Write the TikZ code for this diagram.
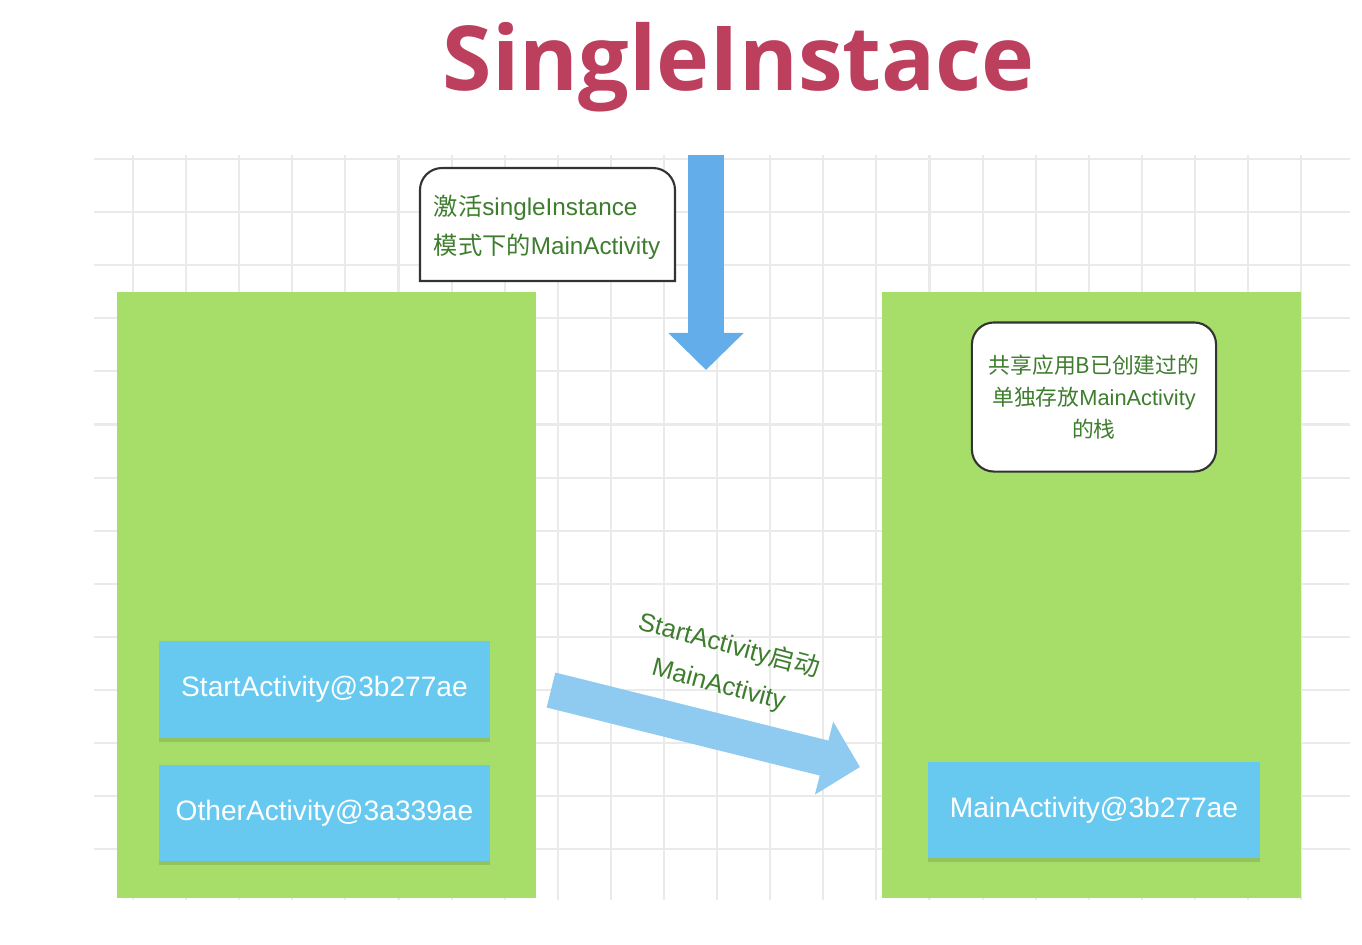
\documentclass[tikz,border=0pt]{standalone}
\usepackage{fontspec}
\setmainfont{Liberation Sans}
\newfontfamily\cjk{Noto Sans CJK SC}
\newfontfamily\titlefont{Open Sans}
\usetikzlibrary{arrows.meta,shadows}

\definecolor{gridgray}{HTML}{EAEAEA}
\definecolor{stackgreen}{HTML}{A7DE6A}
\definecolor{actblue}{HTML}{67C9EF}
\definecolor{dropblue}{HTML}{63AEEA}
\definecolor{pushblue}{HTML}{8FCBF1}
\definecolor{notegreen}{HTML}{3E7D2E}
\definecolor{titlered}{HTML}{BC3F5E}

\newcommand{\zh}[1]{{\cjk #1}}

\tikzset{
    gridline/.style={draw=gridgray, line width=0.6pt},
    stack/.style={fill=stackgreen, inner sep=0pt,
        minimum width=4.18cm, minimum height=6.06cm},
    activity/.style={fill=actblue, text=white, inner sep=0pt,
        minimum width=3.31cm, minimum height=0.96cm,
        font=\fontsize{8}{10}\selectfont,
        drop shadow={shadow xshift=0pt, shadow yshift=-1.2pt,
            opacity=0.12, fill=black}},
    notetext/.style={text=notegreen, inner sep=0pt},
    noteline/.style={draw=black!80, line width=0.6pt},
    bigarrow/.style={line width=0.36cm,
        -{Triangle[length=0.37cm, width=0.73cm]}}
}

\begin{document}
\begin{tikzpicture}[x=0.01cm, y=-0.01cm]

\useasboundingbox (0,0) rectangle (1362,944);

% background grid
\foreach \i in {0,...,22}
    \draw[gridline] ({133+53.1*\i},155) -- ({133+53.1*\i},900);
\foreach \j in {0,...,13}
    \draw[gridline] (94,{159+53.1*\j}) -- (1350,{159+53.1*\j});

% title
\node[text=titlered, font=\titlefont\bfseries\fontsize{25.5}{30}\selectfont]
    (title) at (739,67) {SingleInstace};

% the two stacks
\node[stack] (stackA) at (326.5,595) {};
\node[stack] (stackB) at (1091.5,595) {};

\node[activity] (startAct) at (324.5,689.5) {StartActivity@3b277ae};
\node[activity] (otherAct) at (324.5,813) {OtherActivity@3a339ae};
\node[activity] (mainAct) at (1094,810) {MainActivity@3b277ae};

% note in stack B
\node[noteline, fill=white, rounded corners=0.22cm, align=center,
    minimum width=2.44cm, minimum height=1.49cm,
    text=notegreen, font=\fontsize{6.2}{9.1}\selectfont]
    (stackNote) at (1094,397)
    {\zh{共享应用B已创建过的}\\\zh{单独存放}MainActivity\\\zh{的栈}};

% note above, only top corners rounded
\filldraw[noteline, fill=white] (420,281) -- (420,190)
    arc[start angle=180, end angle=270, radius=22] -- (653,168)
    arc[start angle=270, end angle=360, radius=22] -- (675,281) -- cycle;
\node[notetext, align=left, font=\fontsize{6.9}{11}\selectfont]
    (launchNote) at (547,227)
    {\zh{激活}singleInstance\\\zh{模式下的}MainActivity};

% arrow down
\coordinate (dropTop) at (706,155);
\coordinate (dropEnd) at (706,370);
\draw[bigarrow, draw=dropblue, fill=dropblue] (dropTop) -- (dropEnd);

% arrow from stack A to stack B
\coordinate (pushFrom) at (551,690);
\coordinate (pushTo) at (860,767);
\draw[bigarrow, draw=pushblue, fill=pushblue] (pushFrom) -- (pushTo);

\node[notetext, rotate=-15, align=center, font=\fontsize{7.3}{11.5}\selectfont]
    (pushLabel) at (724,665) {StartActivity\zh{启动}\\MainActivity};

\end{tikzpicture}
\end{document}
